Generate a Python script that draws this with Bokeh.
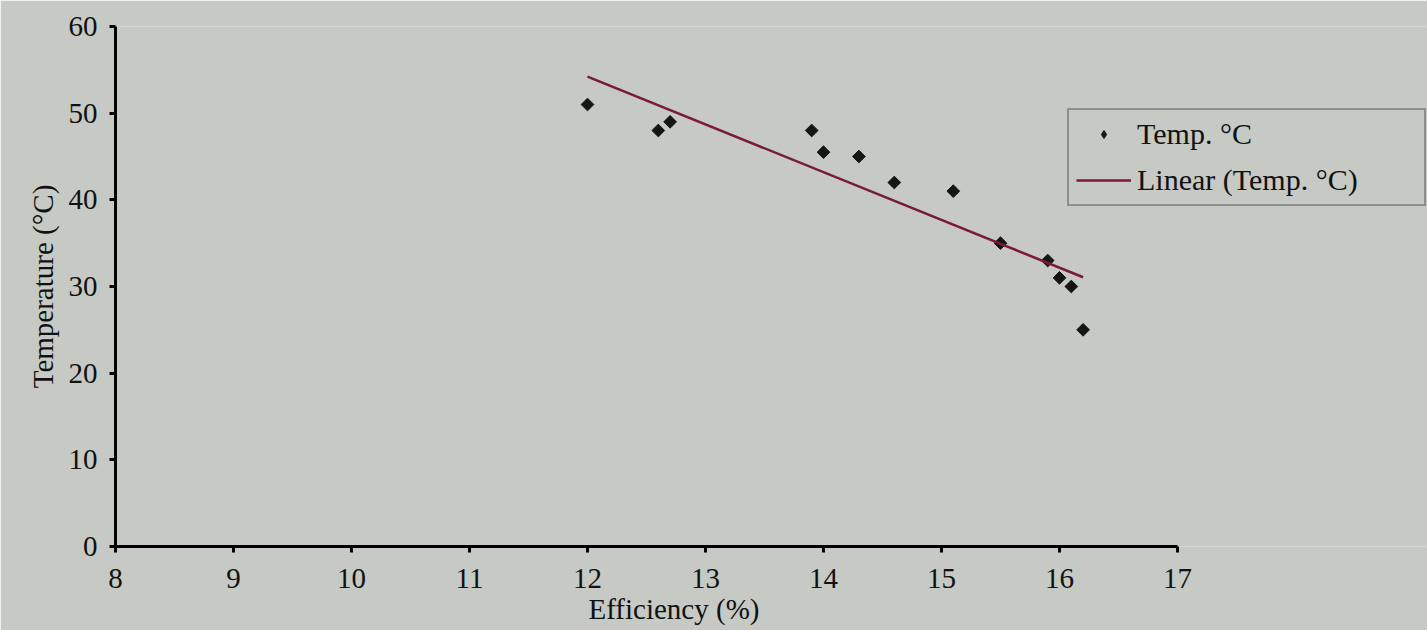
import numpy as np
from bokeh.plotting import figure
from bokeh.models import Legend, LegendItem, FixedTicker, Range1d, Title
from bokeh.embed import file_html
from bokeh.resources import INLINE

# data
efficiency = [12.0, 12.6, 12.7, 13.9, 14.0, 14.3, 14.6, 15.1, 15.5, 15.9, 16.0, 16.1, 16.2]
temperature = [51, 48, 49, 48, 45.5, 45, 42, 41, 35, 33, 31, 30, 25]
x_ticks = [8, 9, 10, 11, 12, 13, 14, 15, 16, 17]
y_ticks = [0, 10, 20, 30, 40, 50, 60]
x_axis_span = (8, 17)

# linear trendline (least squares, as the spreadsheet's "Linear" trendline)
slope, intercept = np.polyfit(efficiency, temperature, 1)
trend_x = [min(efficiency), max(efficiency)]
trend_y = [slope * v + intercept for v in trend_x]

FONT = "Liberation Serif"
BG = "#c6c9c4"
INK = "#111111"

# frame is widened to the right so the legend can sit past the end of the x axis
p = figure(width=1427, height=630, output_backend="svg", toolbar_location=None,
           x_range=Range1d(8, 8 + 1312 / 118.0), y_range=Range1d(0, 60),
           frame_width=1312, frame_height=520,
           min_border_left=115, min_border_top=26, min_border_right=0, min_border_bottom=84)
p.background_fill_color = BG
p.border_fill_color = BG
p.outline_line_color = None
p.grid.visible = False

sc = p.scatter(efficiency, temperature, marker="square", angle=np.pi / 4, size=9,
               color="#151515")
ln = p.line(trend_x, trend_y, line_color="#7a1a34", line_width=2.5)
# legend-only proxy for the point symbol (NaN position, so nothing is drawn in the plot)
sc_key = p.scatter(x=[np.nan], y=[np.nan], marker="diamond", size=11, color="#151515")

for ax in (p.xaxis[0], p.yaxis[0]):
    ax.axis_line_width = 3
    ax.axis_line_color = "black"
    ax.major_tick_line_width = 3
    ax.major_tick_line_color = "black"
    ax.major_tick_out = 6
    ax.major_tick_in = 0
    ax.minor_tick_out = 0
    ax.minor_tick_in = 0
    ax.major_label_text_font = FONT
    ax.major_label_text_font_size = "29px"
    ax.major_label_text_color = INK
    ax.axis_label_text_font = FONT
    ax.axis_label_text_font_size = "29px"
    ax.axis_label_text_font_style = "normal"
    ax.axis_label_text_color = INK

p.xaxis.ticker = FixedTicker(ticks=x_ticks)
p.yaxis.ticker = FixedTicker(ticks=y_ticks)
p.xaxis.bounds = x_axis_span
p.yaxis.axis_label = "Temperature (°C)"
p.xaxis.major_label_standoff = 16
p.yaxis.major_label_standoff = 12
p.yaxis.axis_label_standoff = 7

# x-axis title, placed under the axis itself (not under the widened frame)
xt = Title(text="Efficiency (%)", align="left", offset=473, standoff=0,
           text_font=FONT, text_font_size="29px", text_font_style="normal",
           text_color=INK)
p.add_layout(xt, "below")

legend = Legend(items=[LegendItem(label="Temp. °C", renderers=[sc_key]),
                       LegendItem(label="Linear (Temp. °C)", renderers=[ln])],
                location=(952, 340))
legend.label_text_font = FONT
legend.label_text_font_size = "30px"
legend.label_text_color = INK
legend.background_fill_alpha = 0
legend.border_line_color = "#555555"
legend.border_line_width = 2
legend.glyph_width = 55
legend.label_standoff = 6
legend.label_width = 280
legend.spacing = 12
legend.padding = 7
legend.margin = 0
p.add_layout(legend, "center")

open("out.html", "w").write(file_html(p, INLINE))
